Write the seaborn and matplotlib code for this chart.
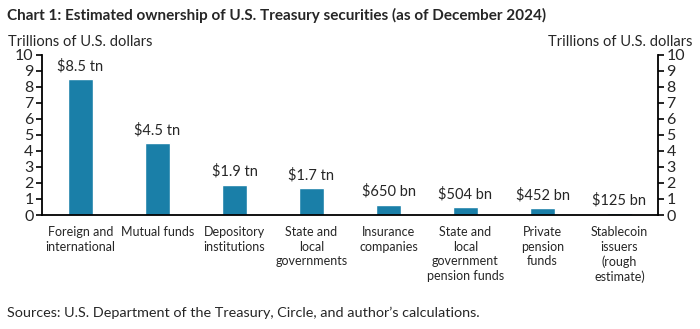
import matplotlib
matplotlib.use("Agg")
import matplotlib.pyplot as plt
import seaborn as sns
import pandas as pd

categories = ["Foreign and\ninternational", "Mutual funds", "Depository\ninstitutions",
              "State and\nlocal\ngovernments", "Insurance\ncompanies",
              "State and\nlocal\ngovernment\npension funds", "Private\npension\nfunds",
              "Stablecoin\nissuers\n(rough\nestimate)"]
values = [8.5, 4.5, 1.9, 1.7, 0.65, 0.504, 0.452, 0.125]
value_labels = ["$8.5 tn", "$4.5 tn", "$1.9 tn", "$1.7 tn", "$650 bn", "$504 bn", "$452 bn", "$125 bn"]
yticks = list(range(0, 11))

sns.set_style("white")
plt.rcParams["font.family"] = ["Lato", "DejaVu Sans"]

df = pd.DataFrame({"cat": categories, "val": values})
fig = plt.figure(figsize=(7, 3.29), dpi=100)
ax = fig.add_axes([0.06, 0.3465, 0.88, 0.487])
sns.barplot(data=df, x="cat", y="val", color="#1a7fa8", width=0.33, ax=ax, saturation=1)
ax.set_ylim(0, 10)
ax.set_xlim(-0.5, 7.5)
ax.set_yticks(yticks)
ax.set_xlabel("")
ax.set_ylabel("")
for s in ["top", "right"]:
    ax.spines[s].set_visible(False)
for s in ["left", "bottom"]:
    ax.spines[s].set_color("black")
    ax.spines[s].set_linewidth(1.3)
ax.tick_params(axis="y", direction="out", length=4, width=1.2, color="black", labelsize=11.5, pad=2, left=True)
ax.tick_params(axis="x", length=0, labelsize=9, pad=8)
for lbl in ax.get_xticklabels():
    lbl.set_linespacing(1.25)
for i, (v, t) in enumerate(zip(values, value_labels)):
    ax.text(i, v + 0.35, t, ha="center", va="bottom", fontsize=10.5)

ax2 = ax.twinx()
ax2.set_ylim(0, 10)
ax2.set_yticks(yticks)
for s in ["top", "left", "bottom"]:
    ax2.spines[s].set_visible(False)
ax2.spines["right"].set_color("black")
ax2.spines["right"].set_linewidth(1.3)
ax2.tick_params(axis="y", direction="out", length=4, width=1.2, color="black", labelsize=11.5, pad=2, right=True)

fig.text(0.01, 0.975, "Chart 1: Estimated ownership of U.S. Treasury securities (as of December 2024)",
         fontsize=11, fontweight="bold", va="top", ha="left")
fig.text(0.012, 0.895, "Trillions of U.S. dollars", fontsize=10.5, va="top", ha="left")
fig.text(0.99, 0.895, "Trillions of U.S. dollars", fontsize=10.5, va="top", ha="right")
fig.text(0.01, 0.03, "Sources: U.S. Department of the Treasury, Circle, and author\u2019s calculations.",
         fontsize=10.4, va="bottom", ha="left")

fig.savefig("out.png", dpi=100)
